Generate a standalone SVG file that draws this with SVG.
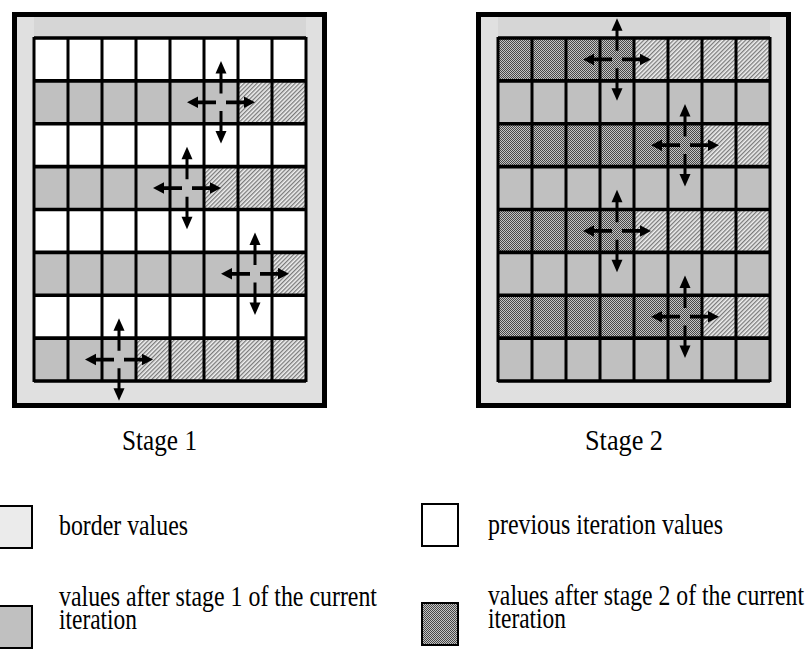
<svg xmlns="http://www.w3.org/2000/svg" xmlns:xlink="http://www.w3.org/1999/xlink" width="809" height="653" viewBox="0 0 809 653">
  <style>
    .frame { fill: #e0e0e0; stroke: #000; stroke-width: 5; }
    .band { fill: #d6d6d6; }
    .white { fill: #ffffff; }
    .gray { fill: #c0c0c0; }
    .hatch { fill: url(#hatch); }
    .check { fill: url(#check); }
    .vgrid { fill: none; stroke: #000; stroke-width: 3; }
    .hgrid { fill: none; stroke: #000; stroke-width: 3.6; }
    .shaft { stroke: #000; stroke-width: 3; fill: none; }
    .head { fill: #000; }
    .label { font-family: "Liberation Serif", "Times New Roman", serif; font-size: 30px; fill: #000; }
    .legend { font-family: "Liberation Serif", "Times New Roman", serif; font-size: 30px; fill: #000; }
    .key { stroke: #000; stroke-width: 2; }
  </style>
  <defs>
    <!-- light diagonal hatching: cells not yet reached in the current stage -->
    <pattern id="hatch" width="3" height="3" patternUnits="userSpaceOnUse" patternTransform="rotate(45)">
      <rect width="3" height="3" fill="#f0f0f0"/>
      <rect width="1.3" height="3" fill="#7a7a7a"/>
    </pattern>
    <!-- dark checker: values after stage 2 -->
    <pattern id="check" width="2" height="2" patternUnits="userSpaceOnUse">
      <rect width="2" height="2" fill="#c4c4c4"/>
      <rect width="1" height="1" fill="#474747"/>
      <rect x="1" y="1" width="1" height="1" fill="#474747"/>
    </pattern>
    <!-- four-way exchange arrows around a cell centre (cells are 1.25x taller than wide) -->
    <g id="cross" transform="scale(1,1.25)">
      <path class="shaft" d="M-5 0H-24M5 0H24M0 -7V-24M0 7V24"/>
      <polygon class="head" points="-34,0 -23,-4.6 -23,4.6"/>
      <polygon class="head" points="34,0 23,-4.6 23,4.6"/>
      <polygon class="head" points="0,-33 -5.5,-23 5.5,-23"/>
      <polygon class="head" points="0,33 -5.5,23 5.5,23"/>
    </g>
  </defs>

  <rect width="809" height="653" fill="#ffffff"/>

  <!-- ===== Stage 1 ===== -->
  <g id="stage1">
    <rect class="frame" x="14.5" y="14.5" width="310" height="391"/>
    <rect class="band" x="34" y="17" width="272" height="21"/>
    <rect class="white" x="34" y="38" width="272" height="42.875"/>
    <rect class="gray" x="34" y="80.875" width="204" height="42.875"/>
    <rect class="hatch" x="238" y="80.875" width="68" height="42.875"/>
    <rect class="white" x="34" y="123.75" width="272" height="42.875"/>
    <rect class="gray" x="34" y="166.625" width="170" height="42.875"/>
    <rect class="hatch" x="204" y="166.625" width="102" height="42.875"/>
    <rect class="white" x="34" y="209.5" width="272" height="42.875"/>
    <rect class="gray" x="34" y="252.375" width="238" height="42.875"/>
    <rect class="hatch" x="272" y="252.375" width="34" height="42.875"/>
    <rect class="white" x="34" y="295.25" width="272" height="42.875"/>
    <rect class="gray" x="34" y="338.125" width="102" height="42.875"/>
    <rect class="hatch" x="136" y="338.125" width="170" height="42.875"/>
    <path class="vgrid" d="M34 37V382M68 38V381M102 38V381M136 38V381M170 38V381M204 38V381M238 38V381M272 38V381M306 37V382"/>
    <path class="hgrid" d="M34 38H306M34 80.875H306M34 123.75H306M34 166.625H306M34 209.5H306M34 252.375H306M34 295.25H306M34 338.125H306M34 381H306"/>
    <text class="label" x="122" y="450" textLength="75" lengthAdjust="spacingAndGlyphs">Stage 1</text>
  </g>

  <!-- ===== Stage 2 ===== -->
  <g id="stage2">
    <rect class="frame" x="478.5" y="14.5" width="310" height="391"/>
    <rect class="band" x="498" y="17" width="272" height="21"/>
    <rect class="check" x="498" y="38" width="136" height="42.875"/>
    <rect class="hatch" x="634" y="38" width="136" height="42.875"/>
    <rect class="gray" x="498" y="80.875" width="272" height="42.875"/>
    <rect class="check" x="498" y="123.75" width="204" height="42.875"/>
    <rect class="hatch" x="702" y="123.75" width="68" height="42.875"/>
    <rect class="gray" x="498" y="166.625" width="272" height="42.875"/>
    <rect class="check" x="498" y="209.5" width="136" height="42.875"/>
    <rect class="hatch" x="634" y="209.5" width="136" height="42.875"/>
    <rect class="gray" x="498" y="252.375" width="272" height="42.875"/>
    <rect class="check" x="498" y="295.25" width="204" height="42.875"/>
    <rect class="hatch" x="702" y="295.25" width="68" height="42.875"/>
    <rect class="gray" x="498" y="338.125" width="272" height="42.875"/>
    <path class="vgrid" d="M498 37V382M532 38V381M566 38V381M600 38V381M634 38V381M668 38V381M702 38V381M736 38V381M770 37V382"/>
    <path class="hgrid" d="M498 38H770M498 80.875H770M498 123.75H770M498 166.625H770M498 209.5H770M498 252.375H770M498 295.25H770M498 338.125H770M498 381H770"/>
    <text class="label" x="585" y="450" textLength="78" lengthAdjust="spacingAndGlyphs">Stage 2</text>
  </g>

  <!-- exchange arrows -->
  <g id="connectors">
    <use xlink:href="#cross" transform="translate(221,102.3)"/>
    <use xlink:href="#cross" transform="translate(187,188.1)"/>
    <use xlink:href="#cross" transform="translate(255,273.8)"/>
    <use xlink:href="#cross" transform="translate(119,359.6)"/>
    <use xlink:href="#cross" transform="translate(617,59.4)"/>
    <use xlink:href="#cross" transform="translate(685,145.2)"/>
    <use xlink:href="#cross" transform="translate(617,230.9)"/>
    <use xlink:href="#cross" transform="translate(685,316.7)"/>
  </g>

  <!-- ===== Legend ===== -->
  <g id="key-border">
    <rect class="key" x="-2" y="506" width="34" height="42" fill="#ebebeb"/>
    <text class="legend" x="59" y="535" textLength="129" lengthAdjust="spacingAndGlyphs">border values</text>
  </g>
  <g id="key-previous">
    <rect class="key" x="422" y="504" width="36" height="42" fill="#ffffff"/>
    <text class="legend" x="488" y="534" textLength="235" lengthAdjust="spacingAndGlyphs">previous iteration values</text>
  </g>
  <g id="key-stage1">
    <rect class="key" x="-2" y="606" width="34" height="42" fill="#c0c0c0"/>
    <text class="legend" x="59" y="606" textLength="318" lengthAdjust="spacingAndGlyphs">values after stage 1 of the current</text>
    <text class="legend" x="59" y="629" textLength="78" lengthAdjust="spacingAndGlyphs">iteration</text>
  </g>
  <g id="key-stage2">
    <rect class="key" x="422" y="603" width="36" height="42" fill="url(#check)"/>
    <text class="legend" x="488" y="605" textLength="316" lengthAdjust="spacingAndGlyphs">values after stage 2 of the current</text>
    <text class="legend" x="488" y="628" textLength="78" lengthAdjust="spacingAndGlyphs">iteration</text>
  </g>
</svg>
